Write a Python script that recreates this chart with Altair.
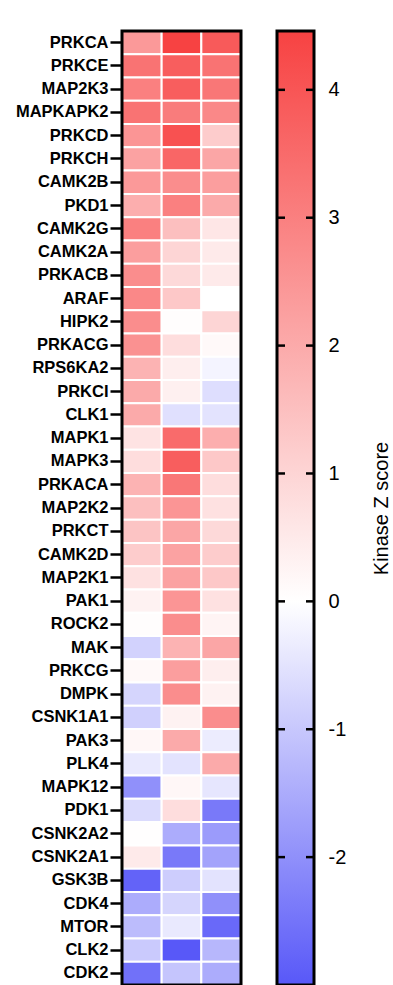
import altair as alt
import pandas as pd

kinases = ["PRKCA", "PRKCE", "MAP2K3", "MAPKAPK2", "PRKCD", "PRKCH", "CAMK2B", "PKD1",
           "CAMK2G", "CAMK2A", "PRKACB", "ARAF", "HIPK2", "PRKACG", "RPS6KA2", "PRKCI",
           "CLK1", "MAPK1", "MAPK3", "PRKACA", "MAP2K2", "PRKCT", "CAMK2D", "MAP2K1",
           "PAK1", "ROCK2", "MAK", "PRKCG", "DMPK", "CSNK1A1", "PAK3", "PLK4", "MAPK12",
           "PDK1", "CSNK2A2", "CSNK2A1", "GSK3B", "CDK4", "MTOR", "CLK2", "CDK2"]

col1 = [2.4, 3.3, 3.0, 3.3, 2.5, 2.2, 2.4, 1.9, 3.0, 2.3, 2.7, 2.8, 2.7, 2.6, 1.8, 2.0,
        2.0, 0.65, 0.8, 1.8, 1.5, 1.4, 1.2, 0.7, 0.3, 0.05, -0.8, 0.15, -0.75, -0.85, 0.2,
        -0.4, -2.0, -0.65, 0.02, 0.5, -2.8, -1.5, -1.2, -0.95, -2.55]
col2 = [4.46, 3.8, 3.8, 3.1, 4.1, 3.6, 2.7, 3.0, 1.5, 1.0, 0.9, 1.3, 0.05, 0.8, 0.4, 0.35,
        -0.55, 3.5, 3.8, 3.2, 2.5, 2.1, 2.2, 2.2, 2.5, 2.7, 1.8, 2.3, 2.7, 0.3, 2.0,
        -0.5, 0.2, 0.8, -1.5, -2.4, -0.9, -0.75, -0.4, -3.0, -1.05]
col3 = [3.9, 3.3, 3.2, 2.8, 1.2, 2.1, 2.3, 2.0, 0.6, 0.5, 0.5, 0.0, 1.0, 0.15, -0.2, -0.6,
        -0.5, 1.9, 1.3, 0.8, 0.7, 0.9, 1.2, 1.3, 0.7, 0.25, 2.1, 0.4, 0.3, 2.7, -0.35,
        2.0, -0.45, -2.4, -1.8, -1.65, -0.5, -2.0, -2.7, -1.3, -1.5]

cbar_domain = [-3.0, 4.46]
cbar_ticks = [-2, -1, 0, 1, 2, 3, 4]
blue, white, red = "#5858F8", "#FFFFFF", "#F74242"

rows = []
for i, k in enumerate(kinases):
    for c, vals in enumerate([col1, col2, col3]):
        rows.append({"kinase": k, "col": c, "z": vals[i]})
df = pd.DataFrame(rows)

FONT = "Liberation Sans"
H = 954
W = 119
CW = 37

cells = alt.Chart(df).mark_rect(stroke="white", strokeWidth=2).encode(
    x=alt.X("col:O", axis=None, scale=alt.Scale(paddingInner=0, paddingOuter=0)),
    y=alt.Y("kinase:N", sort=kinases, title=None,
            scale=alt.Scale(paddingInner=0, paddingOuter=0),
            axis=alt.Axis(labelFont=FONT, labelFontWeight="bold", labelFontSize=16.5,
                          labelColor="black", tickColor="black", tickWidth=2.5,
                          tickSize=12, labelPadding=2, domain=False)),
    color=alt.Color("z:Q", legend=None,
                    scale=alt.Scale(domain=[cbar_domain[0], 0, cbar_domain[1]],
                                    range=[blue, white, red], interpolate="rgb")),
)
one = pd.DataFrame({"f": [0]})
frame = alt.Chart(one).mark_rect(fill="white", fillOpacity=0, stroke="black",
                                 strokeWidth=3).encode(
    x=alt.value(0), x2=alt.value(W), y=alt.value(0), y2=alt.value(H))
heat = alt.layer(cells, frame).properties(width=W, height=H)

off0 = (0 - cbar_domain[0]) / (cbar_domain[1] - cbar_domain[0])
grad = {"gradient": "linear", "x1": 0, "y1": 1, "x2": 0, "y2": 0,
        "stops": [{"offset": 0, "color": blue},
                  {"offset": off0, "color": white},
                  {"offset": 1, "color": red}]}

ydom = alt.Scale(domain=cbar_domain, nice=False, zero=False)
bar_df = pd.DataFrame({"lo": [cbar_domain[0]], "hi": [cbar_domain[1]]})
tick_df = pd.DataFrame({"v": cbar_ticks})

bar = alt.Chart(bar_df).mark_rect(fill=grad, stroke="black", strokeWidth=3).encode(
    x=alt.value(0), x2=alt.value(CW),
    y=alt.Y("lo:Q", scale=ydom,
            axis=alt.Axis(orient="right", values=cbar_ticks, ticks=False, tickSize=0,
                          domain=False, grid=False, labelFont=FONT, labelFontSize=20,
                          labelColor="black", labelPadding=14,
                          labelExpr="'' + datum.value",
                          title="Kinase Z score", titleFont=FONT, titleFontSize=20,
                          titleFontWeight="normal", titleColor="black",
                          titleAngle=270, titlePadding=46)),
    y2="hi:Q",
)
tl = alt.Chart(tick_df).mark_rule(color="black", strokeWidth=2.5).encode(
    x=alt.value(0), x2=alt.value(8), y=alt.Y("v:Q", scale=ydom))
tr = alt.Chart(tick_df).mark_rule(color="black", strokeWidth=2.5).encode(
    x=alt.value(CW - 8), x2=alt.value(CW), y=alt.Y("v:Q", scale=ydom))

cbar = alt.layer(bar, tl, tr).properties(width=CW, height=H)

chart = alt.hconcat(heat, cbar, spacing=32).properties(
    padding={"left": 15, "top": 29, "right": 0, "bottom": 0},
    background="white",
).configure_view(strokeWidth=0)

chart.save("out.html", embed_options={"renderer": "svg", "actions": False})
